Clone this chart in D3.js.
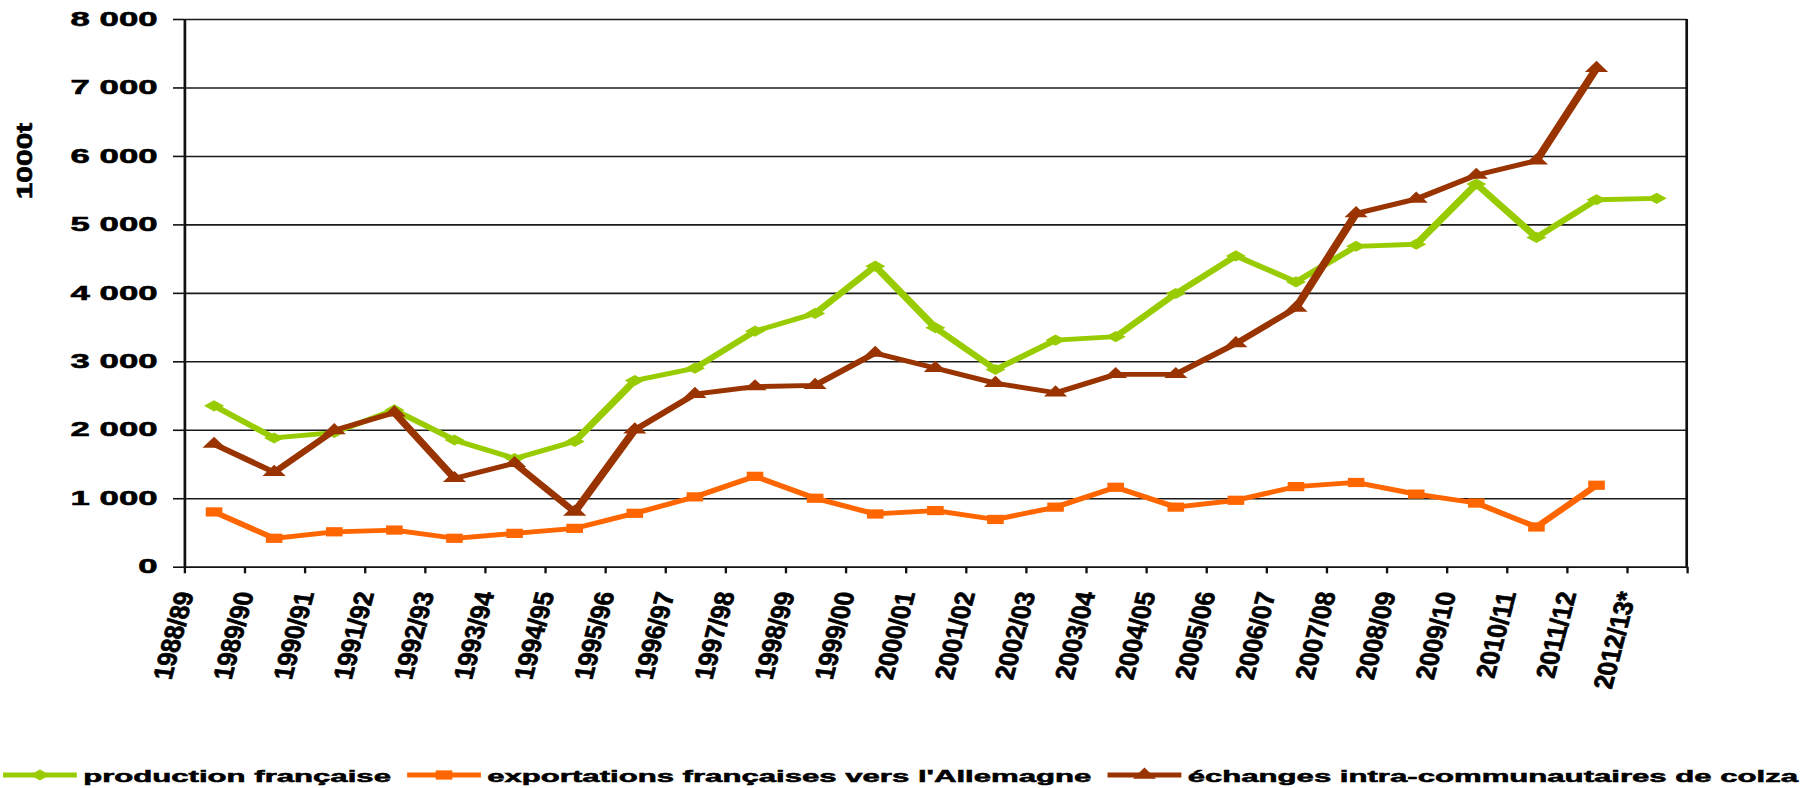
<!DOCTYPE html>
<html lang="fr">
<head>
<meta charset="UTF-8">
<title>Colza : production, exportations, échanges</title>
<style>
  body { margin: 0; background: #fff; }
  text { font-family: "Liberation Sans", Arial, sans-serif; font-weight: bold; fill: #000;
         stroke: #000; stroke-width: 0.55px; paint-order: stroke; }
</style>
</head>
<body>
<div id="chart"></div>
<script src="https://cdn.jsdelivr.net/npm/d3@7/dist/d3.min.js"></script>
<script>
// campagnes (x categories)
const campagnes = ["1988/89","1989/90","1990/91","1991/92","1992/93","1993/94","1994/95","1995/96",
  "1996/97","1997/98","1998/99","1999/00","2000/01","2001/02","2002/03","2003/04","2004/05",
  "2005/06","2006/07","2007/08","2008/09","2009/10","2010/11","2011/12","2012/13*"];

// values in 1000 t
const production = [2350,1880,1960,2290,1850,1580,1830,2720,2900,3440,3700,4390,3490,2880,
  3310,3360,3990,4540,4160,4680,4710,5590,4810,5360,5380];
const exportations = [800,415,510,535,415,487,560,780,1020,1320,1000,770,820,690,870,1160,
  870,970,1170,1230,1060,930,580,1190];
const echanges = [1790,1380,1990,2250,1290,1510,800,2000,2520,2630,2650,3120,2900,2680,
  2540,2810,2810,3260,3780,5160,5370,5720,5930,7280];

const yTicks = [0,1000,2000,3000,4000,5000,6000,7000,8000];
const seriesNames = ["production française", "exportations françaises vers l'Allemagne",
  "échanges intra-communautaires de colza"];
const seriesColors = ["#99cc00", "#ff6600", "#993300"];

// the original picture is stretched sideways, so draw narrow and stretch the whole thing
const W = 1811, H = 788, S = 1.8;
const plotLeft = 184 / S, plotRight = 1686.7 / S, plotTop = 19, plotBottom = 566.7;

const svg = d3.select("#chart").append("svg")
  .attr("width", W).attr("height", H);
const g = svg.append("g").attr("transform", "scale(" + S + ",1)");

const x = d3.scaleBand().domain(campagnes).range([plotLeft, plotRight]).padding(0);
const xEdges = d3.scaleLinear().domain([0, campagnes.length]).range([plotLeft, plotRight]);
const y = d3.scaleLinear().domain([0, 8000]).range([plotBottom, plotTop]);

const fr = d3.formatLocale({ decimal: ",", thousands: " ", grouping: [3], currency: ["", " €"] });
const fmt = fr.format(",");

// gridlines
g.append("g")
  .attr("transform", "translate(" + plotLeft + ",0)")
  .call(d3.axisLeft(y).tickValues(yTicks).tickSize(-(plotRight - plotLeft)).tickFormat(""))
  .call(a => a.select(".domain").remove())
  .call(a => a.selectAll("line").attr("stroke", "#1a1a1a").attr("stroke-width", 1.6));

// y axis
g.append("g")
  .attr("transform", "translate(" + plotLeft + ",0)")
  .call(d3.axisLeft(y).tickValues(yTicks).tickSize(11 / S).tickSizeOuter(0)
    .tickPadding(8.6).tickFormat(fmt))
  .call(a => a.select(".domain").attr("stroke", "#111").attr("stroke-width", 1.5))
  .call(a => a.selectAll("line").attr("stroke", "#111").attr("stroke-width", 1.6))
  .call(a => a.selectAll("text").style("font-size", "19.3px").attr("fill", "#000"));

// x axis (ticks between campagnes)
g.append("g")
  .attr("transform", "translate(0," + plotBottom + ")")
  .call(d3.axisBottom(xEdges).tickValues(d3.range(campagnes.length + 1))
    .tickSize(6.6).tickSizeOuter(0).tickFormat(""))
  .call(a => a.select(".domain").attr("stroke", "#111").attr("stroke-width", 1.6))
  .call(a => a.selectAll("line").attr("stroke", "#111").attr("stroke-width", 1.3));

// right border
g.append("line")
  .attr("x1", xEdges(campagnes.length)).attr("x2", xEdges(campagnes.length))
  .attr("y1", y(8000)).attr("y2", y(0))
  .attr("stroke", "#111").attr("stroke-width", 1.5);

// x labels, rotated and sheared like the original
g.selectAll(".xlab")
  .data(campagnes)
  .enter().append("text")
  .attr("class", "xlab")
  .attr("text-anchor", "end")
  .style("font-size", "20px")
  .attr("transform", d => "translate(" + (x(d) + 5.5) + ",593) matrix(0.174,-1.21,0.74,0.16,0,0)")
  .text(d => d);

// y title
g.append("text")
  .attr("text-anchor", "middle")
  .style("font-size", "20px")
  .attr("transform", "translate(17.8,161) matrix(0,-1.5,0.62,0,0,0)")
  .text("1000t");

// markers
const symbols = [
  { type: d3.symbolSquare, size: 62, rotate: 45 },
  { type: d3.symbolSquare, size: 85, rotate: 0 },
  { type: d3.symbolTriangle, size: 72, rotate: 0 }
];

const series = [production, exportations, echanges];

const line = d3.line()
  .x((d, i) => x(campagnes[i]) + x.bandwidth() / 2)
  .y(d => y(d));

series.forEach(function(vals, k) {
  g.append("path")
    .datum(vals)
    .attr("fill", "none")
    .attr("stroke", seriesColors[k])
    .attr("stroke-width", 4.8)
    .attr("stroke-linejoin", "round")
    .attr("d", line);

  g.selectAll(".m" + k)
    .data(vals)
    .enter().append("path")
    .attr("class", "m" + k)
    .attr("fill", seriesColors[k])
    .attr("transform", (d, i) => "translate(" + (x(campagnes[i]) + x.bandwidth() / 2) + "," + y(d) + ") rotate(" + symbols[k].rotate + ")")
    .attr("d", d3.symbol(symbols[k].type, symbols[k].size));
});

// legend
let lx = 1.7;
const ly = 775;
seriesNames.forEach(function(name, k) {
  g.append("line")
    .attr("x1", lx).attr("x2", lx + 41)
    .attr("y1", ly).attr("y2", ly)
    .attr("stroke", seriesColors[k]).attr("stroke-width", 4.8);
  g.append("path")
    .attr("fill", seriesColors[k])
    .attr("transform", "translate(" + (lx + 20.5) + "," + ly + ") rotate(" + symbols[k].rotate + ")")
    .attr("d", d3.symbol(symbols[k].type, symbols[k].size));
  const t = g.append("text")
    .attr("x", lx + 44.5).attr("y", 782)
    .style("font-size", "17.3px")
    .text(name);
  lx = lx + 44.5 + t.node().getComputedTextLength() + 9;
});
</script>
</body>
</html>
